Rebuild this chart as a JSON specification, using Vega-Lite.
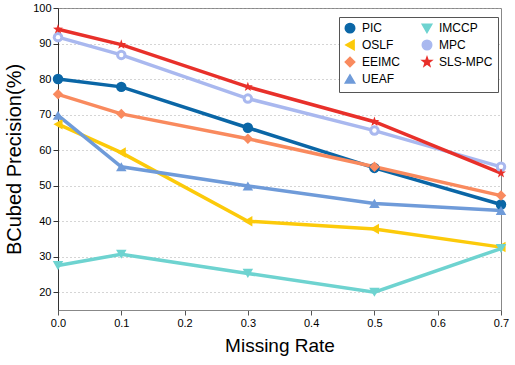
{
  "$schema": "https://vega.github.io/schema/vega-lite/v6.json",
  "autosize": {"type": "none"},
  "width": 443,
  "height": 302,
  "padding": {"left": 58, "top": 8, "right": 14, "bottom": 55},
  "background": "white",
  "config": {
    "font": "Liberation Sans",
    "view": {"stroke": "#888888", "strokeWidth": 1}
  },
  "data": {"values": [
    {"rate": 0, "method": "PIC", "value": 80.0},
    {"rate": 0.1, "method": "PIC", "value": 77.8},
    {"rate": 0.3, "method": "PIC", "value": 66.3},
    {"rate": 0.5, "method": "PIC", "value": 55.0},
    {"rate": 0.7, "method": "PIC", "value": 44.7},
    {"rate": 0, "method": "OSLF", "value": 67.3},
    {"rate": 0.1, "method": "OSLF", "value": 59.3},
    {"rate": 0.3, "method": "OSLF", "value": 40.0},
    {"rate": 0.5, "method": "OSLF", "value": 37.8},
    {"rate": 0.7, "method": "OSLF", "value": 32.7},
    {"rate": 0, "method": "EEIMC", "value": 75.7},
    {"rate": 0.1, "method": "EEIMC", "value": 70.2},
    {"rate": 0.3, "method": "EEIMC", "value": 63.2},
    {"rate": 0.5, "method": "EEIMC", "value": 55.3},
    {"rate": 0.7, "method": "EEIMC", "value": 47.2},
    {"rate": 0, "method": "UEAF", "value": 69.8},
    {"rate": 0.1, "method": "UEAF", "value": 55.3},
    {"rate": 0.3, "method": "UEAF", "value": 49.9},
    {"rate": 0.5, "method": "UEAF", "value": 45.0},
    {"rate": 0.7, "method": "UEAF", "value": 43.0},
    {"rate": 0, "method": "IMCCP", "value": 27.5},
    {"rate": 0.1, "method": "IMCCP", "value": 30.7},
    {"rate": 0.3, "method": "IMCCP", "value": 25.3},
    {"rate": 0.5, "method": "IMCCP", "value": 20.0},
    {"rate": 0.7, "method": "IMCCP", "value": 32.3},
    {"rate": 0, "method": "MPC", "value": 91.8},
    {"rate": 0.1, "method": "MPC", "value": 86.8},
    {"rate": 0.3, "method": "MPC", "value": 74.5},
    {"rate": 0.5, "method": "MPC", "value": 65.5},
    {"rate": 0.7, "method": "MPC", "value": 55.3},
    {"rate": 0, "method": "SLS-MPC", "value": 94.0},
    {"rate": 0.1, "method": "SLS-MPC", "value": 89.7},
    {"rate": 0.3, "method": "SLS-MPC", "value": 77.8},
    {"rate": 0.5, "method": "SLS-MPC", "value": 68.0},
    {"rate": 0.7, "method": "SLS-MPC", "value": 53.5}
  ]},
  "encoding": {
    "x": {"field": "rate", "type": "quantitative",
      "scale": {"domain": [0, 0.7], "nice": false, "zero": false},
      "axis": {"title": "Missing Rate", "titleFontSize": 19, "titleFontWeight": "normal", "titleColor": "#000", "titlePadding": 8,
        "values": [0, 0.1, 0.2, 0.3, 0.4, 0.5, 0.6, 0.7], "labelFontSize": 11, "labelColor": "#000",
        "grid": false, "domainColor": "#888888", "tickColor": "#555", "tickSize": 5, "labelFlush": false}},
    "y": {"field": "value", "type": "quantitative",
      "scale": {"domain": [15, 100], "nice": false, "zero": false},
      "axis": {"title": "BCubed Precision(%)", "titleFontSize": 20, "titleFontWeight": "normal", "titleColor": "#000", "titlePadding": 8,
        "values": [20, 30, 40, 50, 60, 70, 80, 90, 100], "labelFontSize": 11, "labelColor": "#000",
        "grid": true, "gridDash": [1, 3], "gridColor": "#aaaaaa", "domainColor": "#333", "tickColor": "#333", "tickSize": 5}},
    "color": {"field": "method", "type": "nominal",
      "scale": {"domain": ["PIC", "OSLF", "EEIMC", "UEAF", "IMCCP", "MPC", "SLS-MPC"],
        "range": ["#0a66a6", "#fcca0a", "#f98a5e", "#6f9bd9", "#6ed3d0", "#a9b8ef", "#e8302a"]},
      "legend": {"orient": "none", "legendX": 281, "legendY": 9, "columns": 2, "title": null,
        "labelFontSize": 12, "labelColor": "#000", "symbolSize": 90, "strokeColor": "#555", "fillColor": "white",
        "padding": 5, "rowPadding": 1, "columnPadding": 18, "symbolOpacity": 1, "labelOffset": 6}}
  },
  "layer": [
    {"mark": {"type": "line", "strokeWidth": 3.5}},
    {"mark": {"type": "point", "filled": true, "opacity": 1, "size": 110},
      "encoding": {"shape": {"field": "method", "type": "nominal",
        "scale": {"domain": ["PIC", "OSLF", "EEIMC", "UEAF", "IMCCP", "MPC", "SLS-MPC"],
          "range": ["circle", "triangle-left", "diamond", "triangle-up", "triangle-down", "circle",
            "M0,-1L0.235,-0.324L0.951,-0.309L0.380,0.124L0.588,0.809L0,0.4L-0.588,0.809L-0.380,0.124L-0.951,-0.309L-0.235,-0.324Z"]}}}},
    {"transform": [{"filter": "datum.method === 'MPC'"}],
      "mark": {"type": "point", "filled": true, "opacity": 1, "size": 20}, "encoding": {"color": {"value": "white"}}}
  ]
}
